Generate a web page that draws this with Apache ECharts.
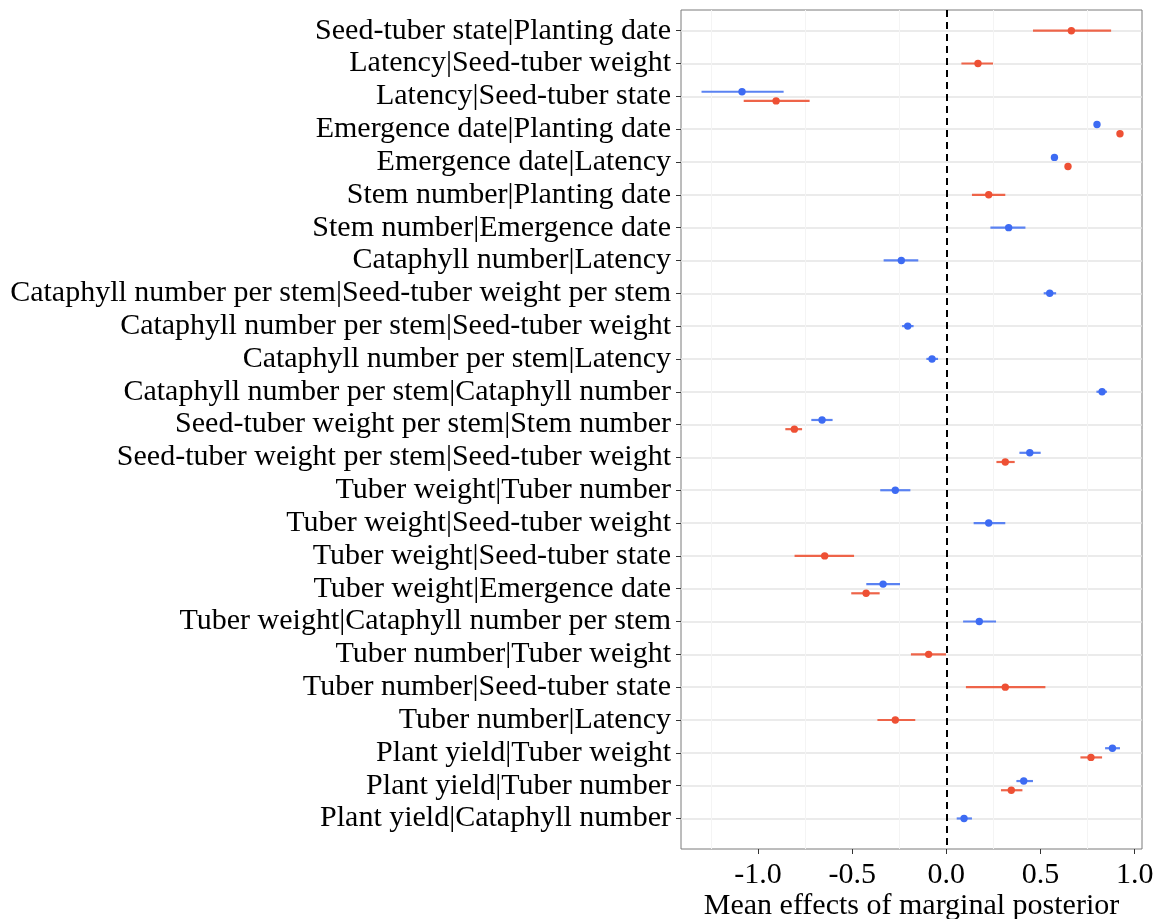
<!DOCTYPE html>
<html>
<head>
<meta charset="utf-8">
<script src="https://cdn.jsdelivr.net/npm/echarts@6/dist/echarts.min.js"></script>
<style>html,body{margin:0;padding:0;background:#fff}#c{width:1161px;height:919px}</style>
</head>
<body>
<div id="c"></div>
<script>
// Rows, top to bottom
var categories = [
  "Seed-tuber state|Planting date",
  "Latency|Seed-tuber weight",
  "Latency|Seed-tuber state",
  "Emergence date|Planting date",
  "Emergence date|Latency",
  "Stem number|Planting date",
  "Stem number|Emergence date",
  "Cataphyll number|Latency",
  "Cataphyll number per stem|Seed-tuber weight per stem",
  "Cataphyll number per stem|Seed-tuber weight",
  "Cataphyll number per stem|Latency",
  "Cataphyll number per stem|Cataphyll number",
  "Seed-tuber weight per stem|Stem number",
  "Seed-tuber weight per stem|Seed-tuber weight",
  "Tuber weight|Tuber number",
  "Tuber weight|Seed-tuber weight",
  "Tuber weight|Seed-tuber state",
  "Tuber weight|Emergence date",
  "Tuber weight|Cataphyll number per stem",
  "Tuber number|Tuber weight",
  "Tuber number|Seed-tuber state",
  "Tuber number|Latency",
  "Plant yield|Tuber weight",
  "Plant yield|Tuber number",
  "Plant yield|Cataphyll number"
];
// Blue group: mean, lower, upper
var blueMean = [null, null, -1.085, 0.800, 0.574, null, 0.331, -0.239, 0.549, -0.205, -0.076, 0.827, -0.660, 0.443, -0.271, 0.225, null, -0.336, 0.175, null, null, null, 0.882, 0.411, 0.094];
var blueLo   = [null, null, -1.300, 0.792, 0.566, null, 0.234, -0.333, 0.517, -0.235, -0.106, 0.797, -0.717, 0.388, -0.351, 0.145, null, -0.425, 0.089, null, null, null, 0.843, 0.372, 0.055];
var blueHi   = [null, null, -0.864, 0.808, 0.582, null, 0.420, -0.149, 0.583, -0.174, -0.044, 0.853, -0.604, 0.501, -0.191, 0.313, null, -0.246, 0.264, null, null, null, 0.922, 0.460, 0.136];
// Red group: mean, lower, upper
var redMean = [0.664, 0.168, -0.904, 0.922, 0.646, 0.225, null, null, null, null, null, null, -0.807, 0.313, null, null, -0.646, -0.426, null, -0.094, 0.313, -0.271, 0.768, 0.345, null];
var redLo   = [0.460, 0.080, -1.076, 0.914, 0.638, 0.136, null, null, null, null, null, null, -0.855, 0.266, null, null, -0.806, -0.505, null, -0.188, 0.104, -0.366, 0.712, 0.290, null];
var redHi   = [0.875, 0.248, -0.726, 0.930, 0.654, 0.313, null, null, null, null, null, null, -0.766, 0.363, null, null, -0.490, -0.354, null, -0.002, 0.526, -0.165, 0.827, 0.404, null];
var xTicks = [-1.0, -0.5, 0.0, 0.5, 1.0];
var xMinorGrid = [-1.25, -0.75, -0.25, 0.25, 0.75];
var xTitle = "Mean effects of marginal posterior";

var BLUE = '#3D6BF3', BLUE_L = '#5A82F2';
var RED = '#EE5034', RED_L = '#EE6449';
var FONT = 'Liberation Serif';
var DODGE = 0.14;

function buildData(mean, lo, hi, other, sign) {
  var out = [];
  for (var i = 0; i < categories.length; i++) {
    if (mean[i] == null) continue;
    var off = other[i] != null ? sign * DODGE : 0;
    out.push([mean[i], lo[i], hi[i], i + off]);
  }
  return out;
}
var blueData = buildData(blueMean, blueLo, blueHi, redMean, -1);
var redData = buildData(redMean, redLo, redHi, blueMean, 1);

function renderer(lineColor, dotColor) {
  return function (params, api) {
    var y = api.value(3);
    var p0 = api.coord([api.value(1), y]);
    var p1 = api.coord([api.value(2), y]);
    var pm = api.coord([api.value(0), y]);
    return {
      type: 'group',
      children: [
        { type: 'line', shape: { x1: p0[0], y1: p0[1], x2: p1[0], y2: p1[1] },
          style: { stroke: lineColor, lineWidth: 2.2 } },
        { type: 'circle', shape: { cx: pm[0], cy: pm[1], r: 3.7 },
          style: { fill: dotColor } }
      ]
    };
  };
}

var rowIdx = categories.map(function (_, i) { return i; });

var chart = echarts.init(document.getElementById('c'), null, { renderer: 'canvas' });
chart.setOption({
  animation: false,
  backgroundColor: '#fff',
  grid: { left: 681, right: 19, top: 10, bottom: 70, containLabel: false, outerBoundsMode: 'none',
    show: true, borderColor: '#7a7a7a', borderWidth: 1, backgroundColor: 'transparent' },
  xAxis: {
    type: 'value', min: -1.409, max: 1.039,
    axisLine: { show: false, onZero: false },
    splitLine: { show: false },
    axisTick: { show: true, length: 5, lineStyle: { color: '#333', width: 1 }, customValues: xTicks },
    axisLabel: { customValues: xTicks, color: '#000', fontFamily: FONT, fontSize: 30, margin: 11,
      formatter: function (v) { return v.toFixed(1); } },
    name: xTitle, nameLocation: 'middle', nameGap: 42, nameMoveOverlap: false,
    nameTextStyle: { color: '#000', fontFamily: FONT, fontSize: 30 }
  },
  yAxis: {
    type: 'value', inverse: true, min: -0.63, max: 24.93,
    axisLine: { show: false, onZero: false },
    splitLine: { show: false },
    axisTick: { show: true, length: 5, lineStyle: { color: '#333', width: 1 }, customValues: rowIdx },
    axisLabel: { customValues: rowIdx, color: '#000', fontFamily: FONT, fontSize: 30, margin: 10,
      padding: [4, 0, 0, 0],
      formatter: function (v) { return categories[Math.round(v)]; } }
  },
  series: [
    {
      type: 'line', data: [], z: 1, silent: true,
      markLine: {
        z: 1, symbol: 'none', silent: true, label: { show: false },
        data: rowIdx.map(function (i) { return { yAxis: i, lineStyle: { color: '#E4E4E4', width: 1.6, type: 'solid' } }; })
          .concat(xMinorGrid.map(function (x) { return { xAxis: x, lineStyle: { color: '#F4F4F4', width: 1, type: 'solid' } }; }))
      }
    },
    {
      type: 'line', data: [], z: 2, silent: true,
      markLine: {
        z: 2, symbol: 'none', silent: true, label: { show: false },
        data: [{ xAxis: 0, lineStyle: { color: '#000', width: 2, type: [7, 5] } }]
      }
    },
    { type: 'custom', name: 'blue', data: blueData, z: 10, renderItem: renderer(BLUE_L, BLUE),
      encode: { x: [0, 1, 2], y: 3 } },
    { type: 'custom', name: 'red', data: redData, z: 10, renderItem: renderer(RED_L, RED),
      encode: { x: [0, 1, 2], y: 3 } }
  ]
});
</script>
</body>
</html>
